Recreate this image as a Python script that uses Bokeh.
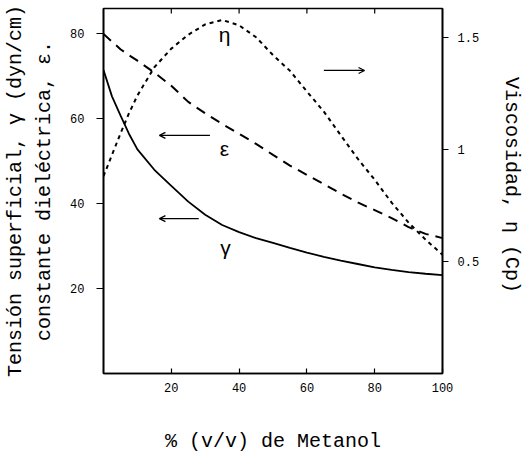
from bokeh.plotting import figure
from bokeh.models import (Range1d, LinearAxis, FixedTicker, Label, Arrow, OpenHead)
from bokeh.embed import file_html
from bokeh.resources import INLINE

# % (v/v) methanol
metanol = [0, 2.5, 5, 7.5, 10, 15, 20, 25, 30, 35, 40, 45, 50,
           55, 60, 65, 70, 75, 80, 85, 90, 95, 100]
# surface tension, dyn/cm (left axis)
gamma = [71.5, 65.3, 60.8, 56.5, 52.8, 48.0, 44.2, 40.5, 37.4, 35.0, 33.3, 31.9, 30.8,
         29.6, 28.5, 27.5, 26.6, 25.8, 25.0, 24.4, 23.9, 23.5, 23.2]
# dielectric constant (left axis)
epsilon = [80.0, 78.2, 76.4, 75.0, 73.7, 70.9, 67.8, 64.0, 61.3, 58.8, 56.5, 54.1, 51.5,
           49.0, 46.8, 44.6, 42.4, 40.3, 38.5, 36.6, 34.5, 32.9, 31.9]
# viscosity, cP (right axis)
eta = [0.88, 0.975, 1.07, 1.16, 1.24, 1.366, 1.449, 1.511, 1.557, 1.577, 1.553, 1.50, 1.42,
       1.35, 1.258, 1.168, 1.062, 0.958, 0.864, 0.762, 0.673, 0.597, 0.53]

x_ticks = [20, 40, 60, 80, 100]
top_ticks = [20, 40, 60, 80]
left_ticks = [20, 40, 60, 80]
right_ticks = [0.5, 1.0, 1.5]

Y_MAX = 86
MONO = "Liberation Mono"
SANS = "Liberation Sans"

p = figure(width=526, height=459, output_backend="svg", toolbar_location=None,
           x_range=Range1d(0, 100), y_range=Range1d(0, Y_MAX),
           min_border_left=98, min_border_right=81, min_border_top=8, min_border_bottom=86,
           x_axis_location=None, y_axis_location=None)
p.extra_y_ranges = {"visc": Range1d(0, 1.628)}
p.grid.visible = False
p.outline_line_color = "black"
p.outline_line_width = 1.6
p.background_fill_color = "white"
p.border_fill_color = "white"


def style_axis(ax):
    ax.axis_line_color = "black"
    ax.axis_line_width = 1.6
    ax.major_tick_line_color = "black"
    ax.major_tick_line_width = 1.2
    ax.minor_tick_line_color = None
    ax.major_label_text_font = MONO
    ax.major_label_text_font_size = "12px"
    ax.major_label_text_color = "black"
    ax.axis_label_text_font = MONO
    ax.axis_label_text_font_size = "20px"
    ax.axis_label_text_font_style = "normal"
    ax.axis_label_text_color = "black"


# bottom axis: inward ticks and numbers
xb = LinearAxis(ticker=FixedTicker(ticks=x_ticks))
style_axis(xb)
xb.major_tick_in = 5
xb.major_tick_out = 0
xb.major_label_standoff = 9
p.add_layout(xb, "below")

# second, tick-less bottom axis carrying the x title (bounded so the title sits left of centre)
xt = LinearAxis(ticker=FixedTicker(ticks=[]), bounds=(0, 83.6),
                axis_label="% (v/v) de Metanol")
style_axis(xt)
xt.axis_line_color = None
xt.major_tick_line_color = None
xt.major_tick_in = 0
xt.major_tick_out = 0
xt.axis_label_standoff = 35
p.add_layout(xt, "below")

# left axis: ticks, numbers and the dielectric-constant line of the title
yl = LinearAxis(ticker=FixedTicker(ticks=left_ticks),
                axis_label="constante dieléctrica, ε.")
style_axis(yl)
yl.major_tick_in = 0
yl.major_tick_out = 7
yl.major_label_standoff = 12
yl.axis_label_standoff = 11
p.add_layout(yl, "left")

# outer left title line
yl2 = LinearAxis(ticker=FixedTicker(ticks=[]),
                 axis_label="Tensión superficial, γ (dyn/cm)")
style_axis(yl2)
yl2.axis_line_color = None
yl2.major_tick_line_color = None
yl2.axis_label_standoff = 4
p.add_layout(yl2, "left")

# right axis: viscosity
yr = LinearAxis(y_range_name="visc", ticker=FixedTicker(ticks=right_ticks),
                axis_label="Viscosidad, η  (Cp)")
style_axis(yr)
yr.major_tick_in = 0
yr.major_tick_out = 6
yr.major_label_standoff = 9
yr.axis_label_standoff = 18
p.add_layout(yr, "right")

# small inward ticks along the top of the frame
p.segment(x0=top_ticks, y0=[Y_MAX] * len(top_ticks),
          x1=top_ticks, y1=[Y_MAX - 1.2] * len(top_ticks),
          line_color="black", line_width=1.2)

# curves
p.line(metanol, gamma, line_color="black", line_width=1.8)
p.line(metanol, epsilon, line_color="black", line_width=2.0, line_dash="10 7")
p.line(metanol, eta, line_color="black", line_width=2.0, line_dash="4 4",
       y_range_name="visc")

# curve names
for txt, xx, yy in [("η", 35.7, 79.8), ("ε", 35.7, 53.0), ("γ", 36.0, 29.7)]:
    p.add_layout(Label(x=xx, y=yy, text=txt, text_font=SANS, text_font_size="21px",
                       text_color="black", text_align="center", text_baseline="middle"))

# arrows pointing to each curve's axis
for x0, x1, yy in [(31.4, 16.5, 56.1), (28.1, 16.5, 36.5), (65.0, 77.0, 71.4)]:
    p.add_layout(Arrow(x_start=x0, y_start=yy, x_end=x1, y_end=yy,
                       line_color="black", line_width=1.3,
                       end=OpenHead(size=6, line_width=1.3, line_color="black")))

open("out.html", "w").write(file_html(p, INLINE))
